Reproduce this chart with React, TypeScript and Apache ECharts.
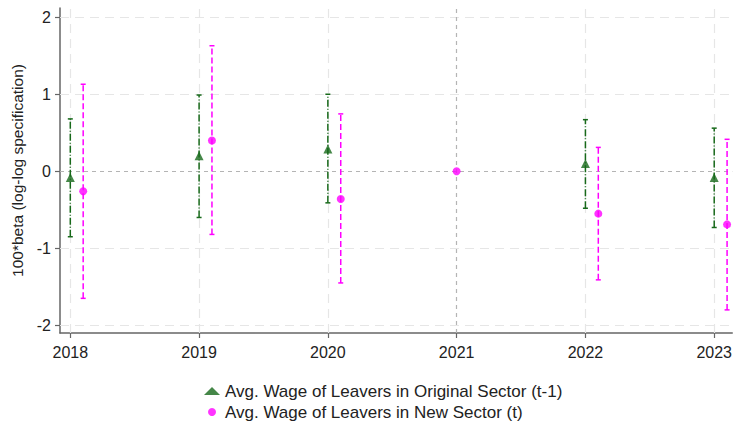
import React, { useEffect, useRef } from "react";
import * as echarts from "echarts";

const years = [2018, 2019, 2020, 2021, 2022, 2023];
const baseYear = 2021;
const yTicks = [-2, -1, 0, 1, 2];

const origName = "Avg. Wage of Leavers in Original Sector (t-1)";
const origEst: (number | null)[] = [-0.08, 0.2, 0.29, null, 0.1, -0.08];
const origLo: (number | null)[] = [-0.85, -0.6, -0.41, null, -0.48, -0.73];
const origHi: (number | null)[] = [0.68, 0.99, 1.0, null, 0.67, 0.56];

const newName = "Avg. Wage of Leavers in New Sector (t)";
const newEst = [-0.26, 0.4, -0.36, 0, -0.55, -0.69];
const newLo = [-1.65, -0.82, -1.45, 0, -1.41, -1.8];
const newHi = [1.13, 1.63, 0.745, 0, 0.31, 0.415];

const GREEN = "#17691a";
const PINK = "#ff00ff";
const NEW_OFFSET = 0.1;

function errSeries(name: string, xs: number[], lo: (number | null)[], hi: (number | null)[], color: string, dash: number[]) {
  const data: any[] = [];
  xs.forEach((x, i) => {
    if (lo[i] == null || hi[i] == null || lo[i] === hi[i]) return;
    data.push([x, lo[i], hi[i]]);
  });
  return {
    type: "custom",
    name: name + " CI",
    silent: true,
    z: 3,
    data,
    encode: { x: 0, y: [1, 2] },
    renderItem: (params: any, api: any) => {
      const x = api.value(0);
      const a = api.coord([x, api.value(1)]);
      const b = api.coord([x, api.value(2)]);
      const cap = 2.5;
      return {
        type: "group",
        children: [
          { type: "line", shape: { x1: a[0], y1: a[1], x2: b[0], y2: b[1] }, style: { stroke: color, lineWidth: 1.5, lineDash: dash } },
          { type: "line", shape: { x1: a[0] - cap, y1: a[1], x2: a[0] + cap, y2: a[1] }, style: { stroke: color, lineWidth: 1.5 } },
          { type: "line", shape: { x1: b[0] - cap, y1: b[1], x2: b[0] + cap, y2: b[1] }, style: { stroke: color, lineWidth: 1.5 } },
        ],
      };
    },
  };
}

export default function App() {
  const ref = useRef<HTMLDivElement>(null);
  useEffect(() => {
    const chart = echarts.init(ref.current!, null, { renderer: "svg" });
    const origX = years.map((y) => y);
    const newX = years.map((y) => (y === baseYear ? y : y + NEW_OFFSET));
    const origPts = origX.map((x, i) => (origEst[i] == null ? null : [x, origEst[i]])).filter((d) => d) as any[];
    const newPts = newX.map((x, i) => [x, newEst[i]]);
    const font = "Liberation Sans, Arial, sans-serif";
    const gridStyle = { color: "#e6e6e6", type: [9, 6], width: 1.2 };
    const refStyle = { color: "#b4b4b4", type: [4, 4], width: 1.2 };
    chart.setOption({
      animation: false,
      textStyle: { fontFamily: font },
      grid: { left: 60, right: 2, top: 8, bottom: 92, containLabel: false },
      xAxis: {
        type: "value",
        min: 2017.92,
        max: 2023.14,
        splitLine: { show: false },
        axisLine: { show: true, onZero: false, lineStyle: { color: "#666", width: 1.5 } },
        axisTick: { show: true, customValues: years, length: 5, lineStyle: { color: "#666", width: 1.2 } },
        axisLabel: { customValues: years, color: "#222", fontSize: 16, margin: 11, fontFamily: font, formatter: (v: number) => String(v) },
      },
      yAxis: {
        type: "value",
        min: -2.1,
        max: 2.12,
        name: "100*beta (log-log specification)",
        nameLocation: "middle",
        nameGap: 30,
        nameTextStyle: { color: "#222", fontSize: 15.5, fontFamily: font },
        splitLine: { show: false },
        axisLine: { show: true, onZero: false, lineStyle: { color: "#666", width: 1.5 } },
        axisTick: { show: true, customValues: yTicks, length: 5, lineStyle: { color: "#666", width: 1.2 } },
        axisLabel: { customValues: yTicks, color: "#222", fontSize: 16, margin: 9, fontFamily: font },
      },
      legend: {
        orient: "vertical",
        left: 204,
        top: 381,
        height: 44,
        padding: 0,
        itemGap: 1,
        itemWidth: 16,
        itemHeight: 8,
        symbolKeepAspect: true,
        textStyle: { fontSize: 17, lineHeight: 20, color: "#222", fontFamily: font },
        data: [
          { name: origName, icon: "triangle", itemStyle: { color: GREEN } },
          { name: newName, icon: "circle", itemStyle: { color: PINK } },
        ],
      },
      series: [
        {
          type: "line",
          name: "grid",
          data: [],
          silent: true,
          markLine: {
            silent: true,
            symbol: "none",
            label: { show: false },
            z: 1,
            data: [
              ...years.filter((y) => y !== baseYear).map((y) => ({ xAxis: y, lineStyle: gridStyle })),
              ...yTicks.filter((v) => v !== 0).map((v) => ({ yAxis: v, lineStyle: gridStyle })),
              { yAxis: 0, lineStyle: refStyle },
              { xAxis: baseYear, lineStyle: refStyle },
            ],
          },
        },
        errSeries(origName, origX, origLo, origHi, GREEN, [7, 2, 1, 2]),
        errSeries(newName, newX, newLo, newHi, PINK, [6, 3]),
        { type: "scatter", name: origName, data: origPts, symbol: "triangle", symbolSize: 9, itemStyle: { color: GREEN }, z: 5 },
        { type: "scatter", name: newName, data: newPts, symbol: "circle", symbolSize: 8, itemStyle: { color: PINK }, z: 5 },
      ],
    });
    return () => chart.dispose();
  }, []);
  return <div ref={ref} style={{ position: "absolute", left: 0, top: 0, width: 735, height: 425 }} />;
}
